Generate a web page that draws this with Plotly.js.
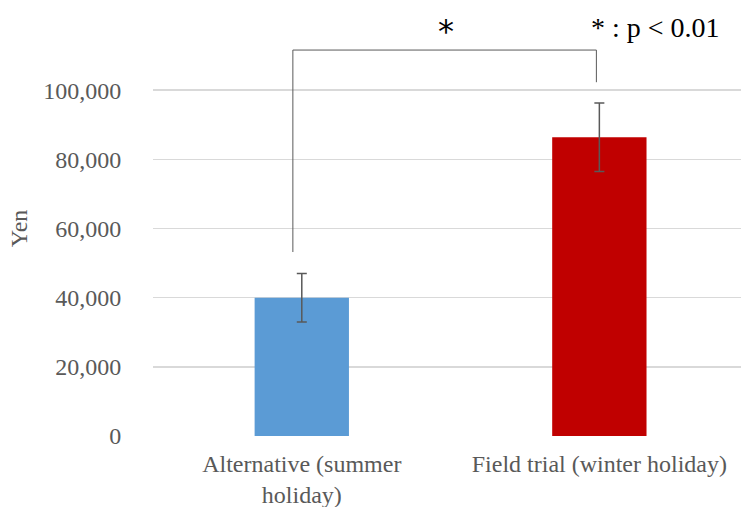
<!DOCTYPE html>
<html>
<head>
<meta charset="utf-8">
<script src="https://cdn.plot.ly/plotly-3.0.1.min.js"></script>
<style>html,body{margin:0;padding:0;background:#fff;}#chart{width:741px;height:507px;}</style>
</head>
<body>
<div id="chart"></div>
<script>
const categories = ["Alternative (summer<br>holiday)", "Field trial (winter holiday)"];
const values = [40000, 86400];
const errors = [7000, 9900];
const colors = ["#5b9bd5", "#c00000"];
const yTicks = [0, 20000, 40000, 60000, 80000, 100000];
const yTickLabels = ["0", "20,000", "40,000", "60,000", "80,000", "100,000"];
const bracketTop = 111600;
const bracketLeftEnd = 53200;
const bracketRightEnd = 102300;
const sigLabel = "*";
const legendNote = "* : p < 0.01";

const font = "Liberation Serif, Times New Roman, serif";
const gray = "#595959";

const trace = {
  type: "bar",
  x: [0, 1],
  y: values,
  marker: {color: colors},
  error_y: {type: "data", array: errors, visible: true, color: gray, thickness: 1.5, width: 5},
  hoverinfo: "none"
};

const bx0 = -0.03, bx1 = 0.99;
const layout = {
  width: 741, height: 507,
  margin: {l: 153, r: 0, t: 21, b: 71},
  paper_bgcolor: "#fff", plot_bgcolor: "#fff",
  bargap: 0.683,
  showlegend: false,
  font: {family: font, color: gray, size: 24},
  xaxis: {
    range: [-0.5, 1.476],
    tickvals: [0, 1], ticktext: categories,
    ticks: "outside", ticklen: 6, tickcolor: "rgba(0,0,0,0)",
    showgrid: false, zeroline: false, showline: false,
    tickfont: {family: font, size: 24, color: gray}
  },
  yaxis: {
    range: [0, 120000],
    tickvals: yTicks, ticktext: yTickLabels,
    ticks: "outside", ticklen: 26, tickcolor: "rgba(0,0,0,0)",
    showgrid: true, gridcolor: "#d9d9d9", gridwidth: 1.5,
    zeroline: false, showline: false,
    tickfont: {family: font, size: 24, color: gray},
    title: {text: "Yen", font: {family: font, size: 24, color: gray}, standoff: 8}
  },
  shapes: [
    {type: "line", xref: "x", yref: "y", x0: bx0, x1: bx0, y0: bracketLeftEnd, y1: bracketTop, line: {color: gray, width: 1}},
    {type: "line", xref: "x", yref: "y", x0: bx0, x1: bx1, y0: bracketTop, y1: bracketTop, line: {color: gray, width: 1}},
    {type: "line", xref: "x", yref: "y", x0: bx1, x1: bx1, y0: bracketTop, y1: bracketRightEnd, line: {color: gray, width: 1}}
  ],
  annotations: [
    {xref: "x", yref: "y", x: (bx0 + bx1) / 2 + 0.005, y: 117000, text: sigLabel, showarrow: false,
     font: {family: "DejaVu Sans, sans-serif", size: 32, color: "#000"}, yanchor: "middle"},
    {xref: "x", yref: "y", x: 1.187, y: 118200, text: legendNote, showarrow: false,
     font: {family: font, size: 28, color: "#000"}, yanchor: "middle"}
  ]
};

Plotly.newPlot("chart", [trace], layout, {displayModeBar: false, staticPlot: true});
</script>
</body>
</html>
